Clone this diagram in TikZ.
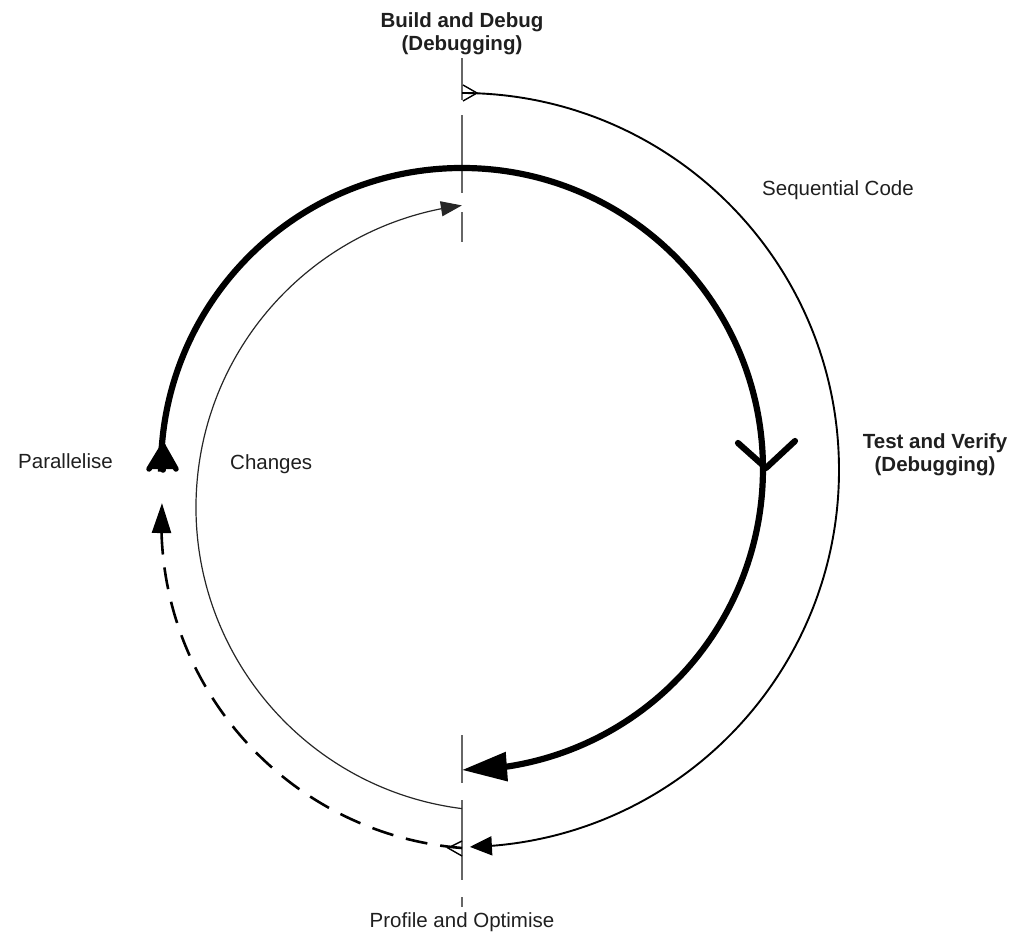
\documentclass[tikz,border=0pt]{standalone}
\usepackage{fontspec}
\setmainfont{Liberation Sans}
\usetikzlibrary{arrows.meta,bending}
\begin{document}
\begin{tikzpicture}[x=1bp,y=-1bp,
  thickarc/.style={line width=6.2bp},
  outerarc/.style={line width=1.9bp},
  innerarc/.style={line width=1.2bp,black!85},
  dasharc/.style={line width=2.6bp,dash pattern=on 22bp off 13bp},
  axisline/.style={line width=1.6bp,black!60},
  barb/.style={line width=1.4bp,line join=miter},
  lbl/.style={font=\fontsize{20.5bp}{23bp}\selectfont,inner sep=0pt,text=black!88},
  blbl/.style={font=\fontsize{20.5bp}{23bp}\selectfont\bfseries,inner sep=0pt,text=black!88,align=center}]
\useasboundingbox (0,0) rectangle (1014,934);

% axis pieces
\draw[axisline] (462,58) -- (462,100);
\draw[axisline] (462,115) -- (462,193);
\draw[axisline] (462,212) -- (462,242);
\draw[axisline] (462,735) -- (462,783);
\draw[axisline] (462,800) -- (462,880);
\draw[axisline] (462,897) -- (462,907);

% coordinates
\coordinate (thickStart) at (161.0,471.6);
\coordinate (outerStart) at (462,93);
\coordinate (innerStart) at (461.9,808.6);
\coordinate (dashStart) at (462,848);

% thick main cycle
\draw[thickarc,-{Triangle[length=45bp,width=28bp]}] (thickStart) arc[start angle=179.5,end angle=450,radius=301];
\draw[thickarc,line cap=round,line join=round] (738,443) -- (766,468) -- (795,441);
% claw at start
\fill (163,446) -- (149,469) -- (176,469) -- cycle;
\draw[line width=5.5bp,line cap=round] (163,446) -- (149,469);
\draw[line width=5.5bp,line cap=round] (163,446) -- (163,470);
\draw[line width=5.5bp,line cap=round] (163,446) -- (176,469);

% outer thin arc
\draw[outerarc,-{Triangle[length=22bp,width=19bp]}] (outerStart) arc[start angle=270,end angle=448.8,radius=377];
\draw[barb] (463,85) -- (477,93) -- (463,101);

% inner thin arc
\draw[innerarc,-{Triangle[length=21bp,width=15bp]}] (innerStart) arc[start angle=97.2,end angle=262.8,radius=304];

% dashed arc
\draw[dasharc,-{Triangle[length=30bp,width=19bp]}] (dashStart) arc[start angle=94.53,end angle=183.44,radius=326.4];
\draw[barb] (462,841) -- (448,848) -- (462,856);

% labels
\node[blbl,anchor=north] (build) at (462,12) {Build and Debug\\(Debugging)};
\node[blbl,anchor=north] (test) at (935,433) {Test and Verify\\(Debugging)};
\node[lbl,anchor=base west] (seq) at (762,195) {Sequential Code};
\node[lbl,anchor=base west] (par) at (18,468) {Parallelise};
\node[lbl,anchor=base west] (chg) at (230,469) {Changes};
\node[lbl,anchor=base] (prof) at (462,927) {Profile and Optimise};
\end{tikzpicture}
\end{document}
